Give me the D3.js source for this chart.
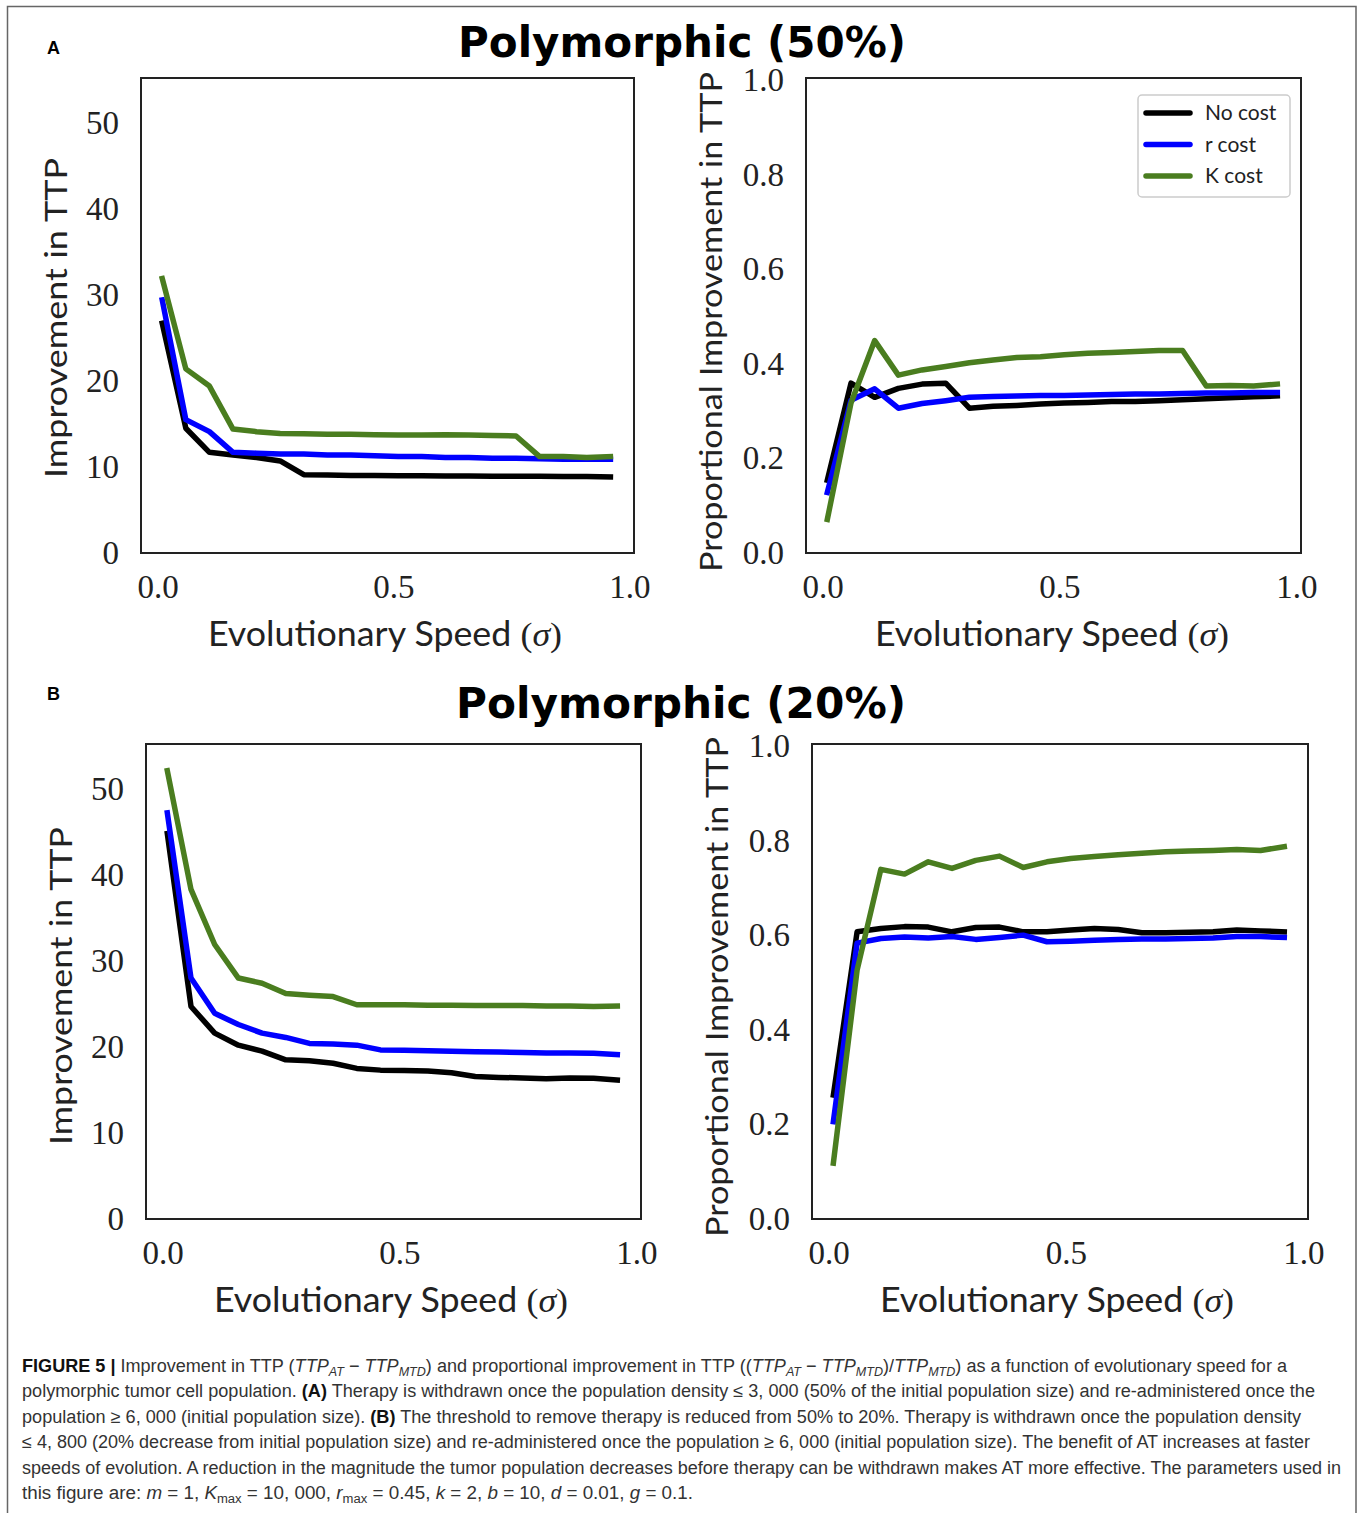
<!DOCTYPE html>
<html><head><meta charset="utf-8">
<script src="https://cdn.jsdelivr.net/npm/d3@7"></script>
<style>body{margin:0;background:#fff}svg{display:block}</style>
</head><body>
<svg id="c" width="1360" height="1513"></svg>
<script>
// ---------------- data ----------------
const sigma = [0.01,0.06,0.11,0.16,0.21,0.26,0.31,0.36,0.41,0.46,0.51,0.56,0.61,0.66,0.71,0.76,0.81,0.86,0.91,0.96];
const seriesNames = ["No cost","r cost","K cost"];
const seriesColors = ["#000000","#0000ff","#4a7d1f"];

// Panel A (50%) - improvement in TTP
const A_abs_noCost = [26.7,14.5,11.7,11.4,11.1,10.7,9.1,9.05,9.0,9.0,8.98,8.97,8.95,8.95,8.93,8.93,8.92,8.9,8.9,8.85];
const A_abs_rCost  = [29.4,15.5,14.1,11.7,11.6,11.5,11.5,11.4,11.4,11.3,11.2,11.2,11.1,11.1,11.0,11.0,10.95,10.9,10.9,10.9];
const A_abs_KCost  = [31.9,21.4,19.4,14.4,14.1,13.9,13.85,13.8,13.8,13.75,13.7,13.7,13.75,13.7,13.65,13.6,11.2,11.2,11.1,11.2];
// Panel A (50%) - proportional improvement
const A_prop_noCost = [0.154,0.359,0.329,0.348,0.357,0.359,0.306,0.31,0.312,0.315,0.317,0.318,0.32,0.32,0.322,0.324,0.326,0.328,0.33,0.332];
const A_prop_rCost  = [0.128,0.323,0.347,0.306,0.316,0.322,0.329,0.331,0.332,0.333,0.333,0.334,0.335,0.336,0.336,0.337,0.338,0.338,0.339,0.339];
const A_prop_KCost  = [0.071,0.317,0.449,0.376,0.387,0.394,0.402,0.408,0.413,0.415,0.419,0.422,0.424,0.426,0.428,0.428,0.353,0.354,0.353,0.357];
// Panel B (20%) - improvement in TTP
const B_abs_noCost = [44.8,24.7,21.6,20.2,19.5,18.5,18.4,18.1,17.5,17.3,17.25,17.2,17.0,16.55,16.45,16.4,16.3,16.4,16.35,16.16];
const B_abs_rCost  = [47.2,28.0,23.9,22.6,21.6,21.1,20.4,20.35,20.2,19.65,19.6,19.55,19.5,19.45,19.4,19.35,19.3,19.3,19.25,19.1];
const B_abs_KCost  = [52.1,38.3,31.9,28.0,27.4,26.2,26.0,25.85,24.9,24.9,24.9,24.85,24.85,24.8,24.8,24.8,24.75,24.75,24.7,24.75];
// Panel B (20%) - proportional improvement
const B_prop_noCost = [0.262,0.607,0.614,0.618,0.617,0.607,0.616,0.617,0.607,0.607,0.611,0.614,0.612,0.605,0.605,0.606,0.607,0.611,0.609,0.607];
const B_prop_rCost  = [0.206,0.583,0.593,0.596,0.594,0.597,0.591,0.595,0.600,0.586,0.587,0.589,0.591,0.592,0.592,0.593,0.594,0.597,0.597,0.595];
const B_prop_KCost  = [0.118,0.526,0.739,0.729,0.755,0.741,0.758,0.767,0.743,0.755,0.762,0.766,0.770,0.773,0.776,0.778,0.779,0.781,0.779,0.787];

const xTicks = [0.0,0.5,1.0];
const absTicks = [0,10,20,30,40,50];
const propTicks = [0.0,0.2,0.4,0.6,0.8,1.0];

const titles = ["Polymorphic (50%)","Polymorphic (20%)"];
const panelLetters = ["A","B"];
const yLabelAbs = "Improvement in TTP";
const yLabelProp = "Proportional Improvement in TTP";
const xLabelText = "Evolutionary Speed ";

// caption: [text, style]  b=bold, i=italic, sub=italic subscript, subr=roman subscript
const captionLines = [
 [["FIGURE 5 | ","b"],["Improvement in TTP (",""],["TTP","i"],["AT","sub"],[" \u2212 ",""],["TTP","i"],["MTD","sub"],[") and proportional improvement in TTP ((",""],["TTP","i"],["AT","sub"],[" \u2212 ",""],["TTP","i"],["MTD","sub"],[")/",""],["TTP","i"],["MTD","sub"],[") as a function of evolutionary speed for a",""]],
 [["polymorphic tumor cell population. ",""],["(A)","b"],[" Therapy is withdrawn once the population density \u2264 3, 000 (50% of the initial population size) and re-administered once the",""]],
 [["population \u2265 6, 000 (initial population size). ",""],["(B)","b"],[" The threshold to remove therapy is reduced from 50% to 20%. Therapy is withdrawn once the population density",""]],
 [["\u2264 4, 800 (20% decrease from initial population size) and re-administered once the population \u2265 6, 000 (initial population size). The benefit of AT increases at faster",""]],
 [["speeds of evolution. A reduction in the magnitude the tumor population decreases before therapy can be withdrawn makes AT more effective. The parameters used in",""]],
 [["this figure are: ",""],["m","i"],[" = 1, ",""],["K","i"],["max","subr"],[" = 10, 000, ",""],["r","i"],["max","subr"],[" = 0.45, ",""],["k","i"],[" = 2, ",""],["b","i"],[" = 10, ",""],["d","i"],[" = 0.01, ",""],["g","i"],[" = 0.1.",""]]
];

// ---------------- layout ----------------
const SERIF = "'Liberation Serif', 'DejaVu Serif', serif";
const SANS = "Lato, 'DejaVu Sans', sans-serif";
const TITLEFONT = "'DejaVu Sans', sans-serif";
const INK = "#222";
const xDomain = [-0.035, 1.01];

const svg = d3.select("#c");

// outer frame (left, top, right)
svg.append("path").attr("d","M7.5,1513 V6.5 H1356 V1513").attr("fill","none").attr("stroke","#666").attr("stroke-width",1.5);

const panels = [
 {x0:141,x1:634,y0:78,y1:553,yDomain:[0,55.2],ticks:absTicks,fmt:d3.format("d"),data:[A_abs_noCost,A_abs_rCost,A_abs_KCost],
  ylab:yLabelAbs,ylabX:67,ylabY:318,ylabLen:320,xlabX:385,xlabY:646,legend:false},
 {x0:806,x1:1301,y0:78,y1:553,yDomain:[0,1.004],ticks:propTicks,fmt:d3.format(".1f"),data:[A_prop_noCost,A_prop_rCost,A_prop_KCost],
  ylab:yLabelProp,ylabX:722,ylabY:322,ylabLen:500,xlabX:1052,xlabY:646,legend:true},
 {x0:146,x1:641,y0:744,y1:1219,yDomain:[0,55.2],ticks:absTicks,fmt:d3.format("d"),data:[B_abs_noCost,B_abs_rCost,B_abs_KCost],
  ylab:yLabelAbs,ylabX:72,ylabY:986,ylabLen:318,xlabX:391,xlabY:1312,legend:false},
 {x0:812,x1:1308,y0:744,y1:1219,yDomain:[0,1.004],ticks:propTicks,fmt:d3.format(".1f"),data:[B_prop_noCost,B_prop_rCost,B_prop_KCost],
  ylab:yLabelProp,ylabX:728,ylabY:987,ylabLen:500,xlabX:1057,xlabY:1312,legend:false}
];

panels.forEach(p => {
  const x = d3.scaleLinear().domain(xDomain).range([p.x0,p.x1]);
  const y = d3.scaleLinear().domain(p.yDomain).range([p.y1,p.y0]);

  const gx = svg.append("g").attr("transform",`translate(0,${p.y1})`)
    .call(d3.axisBottom(x).tickValues(xTicks).tickFormat(d3.format(".1f")).tickSize(0).tickPadding(22));
  gx.select(".domain").remove();
  gx.selectAll("text").attr("font-family",SERIF).attr("font-size",33).attr("fill",INK);

  const gy = svg.append("g").attr("transform",`translate(${p.x0},0)`)
    .call(d3.axisLeft(y).tickValues(p.ticks).tickFormat(p.fmt).tickSize(0).tickPadding(22));
  gy.select(".domain").remove();
  gy.selectAll("text").attr("font-family",SERIF).attr("font-size",33).attr("fill",INK);

  const line = d3.line().x((d,i)=>x(sigma[i])).y(d=>y(d));
  p.data.forEach((s,k) => {
    svg.append("path").datum(s).attr("d",line).attr("fill","none")
      .attr("stroke",seriesColors[k]).attr("stroke-width",5.5)
      .attr("stroke-linejoin","round").attr("stroke-linecap","square");
  });

  svg.append("rect").attr("x",p.x0).attr("y",p.y0).attr("width",p.x1-p.x0).attr("height",p.y1-p.y0)
    .attr("fill","none").attr("stroke",INK).attr("stroke-width",2);

  // y label
  svg.append("text").attr("transform",`translate(${p.ylabX},${p.ylabY}) rotate(-90)`)
    .attr("text-anchor","middle").attr("font-family",SANS).attr("font-size",31).attr("fill",INK)
    .attr("textLength",p.ylabLen).attr("lengthAdjust","spacingAndGlyphs").text(p.ylab);

  // x label
  const t = svg.append("text").attr("x",p.xlabX).attr("y",p.xlabY).attr("text-anchor","middle")
    .attr("font-size",34).attr("fill",INK).attr("textLength",354).attr("lengthAdjust","spacingAndGlyphs");
  t.append("tspan").attr("font-family",SANS).text(xLabelText);
  t.append("tspan").attr("font-family",SERIF).text("(");
  t.append("tspan").attr("font-family",SERIF).attr("font-style","italic").text("\u03c3");
  t.append("tspan").attr("font-family",SERIF).text(")");

  if (p.legend) {
    const lg = svg.append("g");
    lg.append("rect").attr("x",1138).attr("y",95).attr("width",152).attr("height",102).attr("rx",4)
      .attr("fill","#fff").attr("stroke","#cccccc").attr("stroke-width",1.5);
    seriesNames.forEach((n,k) => {
      const yy = 113 + k*31.5;
      lg.append("line").attr("x1",1146).attr("x2",1190).attr("y1",yy).attr("y2",yy)
        .attr("stroke",seriesColors[k]).attr("stroke-width",5.5).attr("stroke-linecap","round");
      lg.append("text").attr("x",1205).attr("y",yy+7).attr("font-family",SANS).attr("font-size",21)
        .attr("fill",INK).text(n);
    });
  }
});

// titles and panel letters
[[682,57,448],[681,718,450]].forEach((pos,i) => {
  svg.append("text").attr("x",pos[0]).attr("y",pos[1]).attr("text-anchor","middle")
    .attr("font-family",TITLEFONT).attr("font-weight","bold").attr("font-size",43).attr("fill","#000")
    .attr("textLength",pos[2]).attr("lengthAdjust","spacingAndGlyphs").text(titles[i]);
});
[[47,54],[47,700]].forEach((pos,i) => {
  svg.append("text").attr("x",pos[0]).attr("y",pos[1]).attr("font-family","'Liberation Sans', Arial, sans-serif")
    .attr("font-weight","bold").attr("font-size",18).attr("fill","#000").text(panelLetters[i]);
});

// caption
const capWidths = [1265,1293,1279,1288,1319,671];
captionLines.forEach((segs,li) => {
  const t = svg.append("text").attr("x",22).attr("y",1372 + li*25.4)
    .attr("font-family","'Liberation Sans', Arial, sans-serif").attr("font-size",18).attr("fill","#333")
    .attr("textLength",capWidths[li]).attr("lengthAdjust","spacingAndGlyphs");
  let shifted = false;
  segs.forEach(([txt,st]) => {
    const ts = t.append("tspan").text(txt);
    if (st === "b") ts.attr("font-weight","bold").attr("fill","#111");
    if (st === "i") ts.attr("font-style","italic");
    if (st === "sub" || st === "subr") {
      ts.attr("font-size",12.5).attr("dy",shifted?0:4);
      if (st === "sub") ts.attr("font-style","italic");
      shifted = true;
    } else if (shifted) {
      ts.attr("dy",-4); shifted = false;
    }
  });
});
</script>
</body></html>
